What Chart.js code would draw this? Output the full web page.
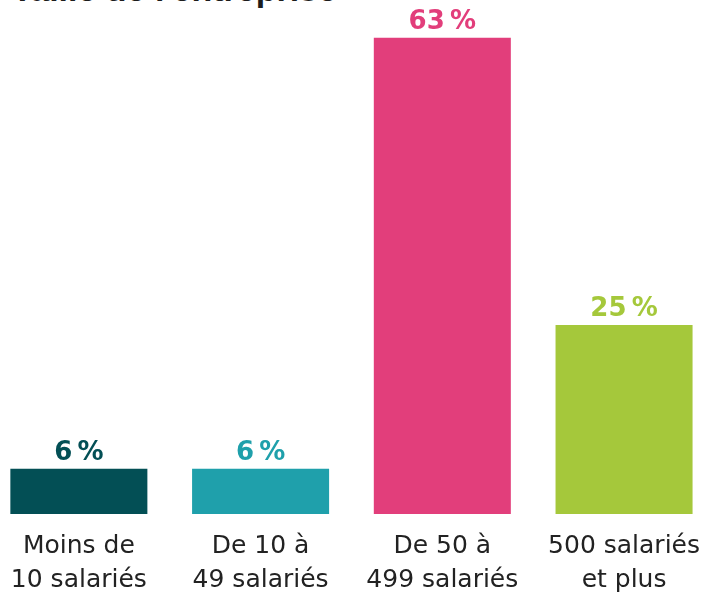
<!DOCTYPE html>
<html lang="fr">
<head>
<meta charset="utf-8">
<script src="https://cdn.jsdelivr.net/npm/chart.js@4/dist/chart.umd.min.js"></script>
<style>
  html, body { margin: 0; padding: 0; background: #fff; overflow: hidden; }
  body { width: 720px; height: 595px; position: relative; }
  #title {
    position: absolute; left: 12px; top: -28px;
    font: bold 34px "Liberation Sans", Arial, sans-serif; line-height: 34px;
    color: #1c1c1c; white-space: nowrap;
  }
  #wrap { position: absolute; left: -12px; top: 0; width: 727px; height: 595px; }
</style>
</head>
<body>
<div id="title">Taille de l'entreprise</div>
<div id="wrap"><canvas id="sizeChart"></canvas></div>
<script>
const categories = [
  ["Moins de", "10 salariés"],
  ["De 10 à", "49 salariés"],
  ["De 50 à", "499 salariés"],
  ["500 salariés", "et plus"],
];
const shares = [6, 6, 63, 25];
const colors = ["#034f55", "#1fa0ab", "#e23e7b", "#a5c83b"];

const valueLabels = {
  id: "valueLabels",
  afterDatasetsDraw(chart) {
    const ctx = chart.ctx;
    const meta = chart.getDatasetMeta(0);
    ctx.save();
    ctx.font = "bold 26px 'DejaVu Sans', sans-serif";
    ctx.textAlign = "center";
    ctx.textBaseline = "alphabetic";
    meta.data.forEach((bar, i) => {
      ctx.fillStyle = colors[i];
      ctx.fillText(shares[i] + "\u202F%", bar.x, bar.y - 9);
    });
    ctx.restore();
  },
};

new Chart(document.getElementById("sizeChart"), {
  type: "bar",
  data: {
    labels: categories,
    datasets: [
      {
        data: shares,
        backgroundColor: colors,
        borderWidth: 0,
        categoryPercentage: 1,
        barPercentage: 0.754,
      },
    ],
  },
  options: {
    responsive: true,
    maintainAspectRatio: false,
    animation: false,
    layout: { padding: 0 },
    plugins: {
      legend: { display: false },
      tooltip: { enabled: false },
    },
    scales: {
      x: {
        grid: { display: false, drawTicks: false },
        border: { display: false },
        ticks: {
          padding: 15,
          color: "#222",
          font: { family: "DejaVu Sans", size: 25, lineHeight: 1.36 },
          maxRotation: 0,
        },
        afterFit(scale) {
          scale.height = 81;
        },
      },
      y: {
        display: false,
        min: 0,
        max: 68,
      },
    },
  },
  plugins: [valueLabels],
});
</script>
</body>
</html>
